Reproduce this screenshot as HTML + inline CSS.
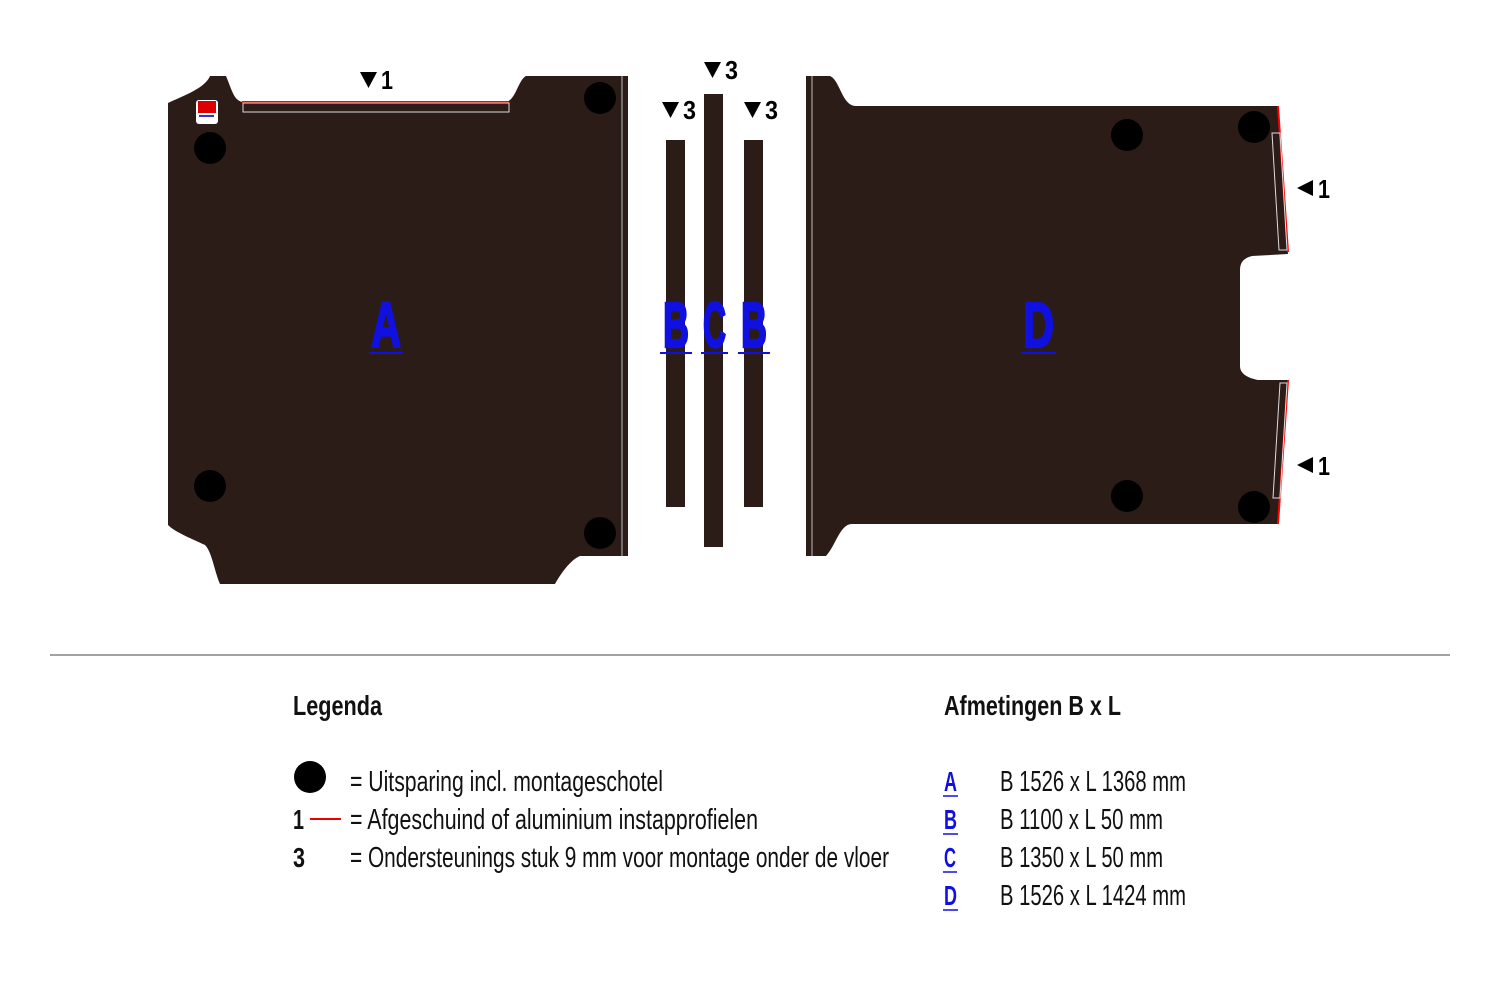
<!DOCTYPE html>
<html><head><meta charset="utf-8"><style>
html,body{margin:0;padding:0;background:#fff;}
svg{display:block;}
text{font-family:"Liberation Sans",sans-serif;}
.big{font-weight:700;font-size:64px;fill:#1010e0;stroke:#1010e0;stroke-width:2.5px;}
</style></head><body>
<svg width="1500" height="1001" viewBox="0 0 1500 1001" xmlns="http://www.w3.org/2000/svg">
<rect width="1500" height="1001" fill="#fff"/>
<!-- Piece A -->
<path d="M168,103 C185,95 205,88 210,76 L226,76 C232,90 234,102 244,102 L506,102 C516,100 518,80 526,76 L628,76 L628,556 L580,556 C570,560 560,575 555,584 L220,584 C214,570 212,552 205,545 C190,538 175,532 168,525 Z" fill="#2c1c17"/>
<line x1="242" y1="102" x2="509" y2="102" stroke="#f00" stroke-width="2"/>
<rect x="243" y="103" width="266" height="9" fill="none" stroke="#ddd" stroke-width="1"/>
<line x1="622" y1="76" x2="622" y2="556" stroke="#bbb" stroke-width="1"/>
<rect x="196" y="100" width="22" height="24" rx="3" fill="#fff"/>
<rect x="198" y="101" width="18" height="12" fill="#d00"/>
<rect x="199" y="115" width="15" height="2" fill="#33c"/>
<circle cx="600" cy="98" r="16" fill="#000"/>
<circle cx="210" cy="148" r="16" fill="#000"/>
<circle cx="210" cy="486" r="16" fill="#000"/>
<circle cx="600" cy="533" r="16" fill="#000"/>
<!-- strips -->
<rect x="666" y="140" width="19" height="367" fill="#2c1c17"/>
<rect x="704" y="94" width="19" height="453" fill="#2c1c17"/>
<rect x="744" y="140" width="19" height="367" fill="#2c1c17"/>
<!-- Piece D -->
<path d="M806,76 L830,76 C840,80 842,106 856,106 L1278,106 L1288,254 L1252,256 C1244,258 1240,262 1240,270 L1240,366 C1240,374 1248,378 1258,380 L1288,380 L1278,524 L852,524 C840,524 836,545 826,556 L806,556 Z" fill="#2c1c17"/>
<line x1="812" y1="76" x2="812" y2="556" stroke="#bbb" stroke-width="1"/>
<line x1="1278" y1="106" x2="1288" y2="252" stroke="#f00" stroke-width="2"/>
<line x1="1288" y1="380" x2="1278" y2="524" stroke="#f00" stroke-width="2"/>
<path d="M1272,133 L1280,133 L1287,250 L1279,250 Z" fill="none" stroke="#ddd" stroke-width="1"/>
<path d="M1280,383 L1287,383 L1280,498 L1273,498 Z" fill="none" stroke="#ddd" stroke-width="1"/>
<circle cx="1127" cy="135" r="16" fill="#000"/>
<circle cx="1254" cy="127" r="16" fill="#000"/>
<circle cx="1127" cy="496" r="16" fill="#000"/>
<circle cx="1254" cy="507" r="16" fill="#000"/>
<!-- big letters -->
<text class="big" x="371" y="347" textLength="30" lengthAdjust="spacingAndGlyphs">A</text>
<text class="big" x="663" y="347" textLength="26" lengthAdjust="spacingAndGlyphs">B</text>
<text class="big" x="703" y="347" textLength="23" lengthAdjust="spacingAndGlyphs">C</text>
<text class="big" x="741" y="347" textLength="26" lengthAdjust="spacingAndGlyphs">B</text>
<text class="big" x="1023" y="347" textLength="31" lengthAdjust="spacingAndGlyphs">D</text>
<g stroke="#1010e0" stroke-width="2">
<line x1="369" y1="353" x2="403" y2="353"/>
<line x1="660" y1="353" x2="692" y2="353"/>
<line x1="701" y1="353" x2="728" y2="353"/>
<line x1="738" y1="353" x2="770" y2="353"/>
<line x1="1021" y1="353" x2="1056" y2="353"/>
</g>
<!-- markers -->
<g fill="#000" font-weight="bold" font-size="26">
<path d="M360,72 L377,72 L368.5,88 Z"/><text x="381" y="89" textLength="12" lengthAdjust="spacingAndGlyphs">1</text>
<path d="M704,62 L721,62 L712.5,78 Z"/><text x="725" y="79" textLength="13" lengthAdjust="spacingAndGlyphs">3</text>
<path d="M662,102 L679,102 L670.5,118 Z"/><text x="683" y="119" textLength="13" lengthAdjust="spacingAndGlyphs">3</text>
<path d="M744,102 L761,102 L752.5,118 Z"/><text x="765" y="119" textLength="13" lengthAdjust="spacingAndGlyphs">3</text>
<path d="M1297,188 L1313,180 L1313,196 Z"/><text x="1318" y="198" textLength="12" lengthAdjust="spacingAndGlyphs">1</text>
<path d="M1297,465 L1313,457 L1313,473 Z"/><text x="1318" y="475" textLength="12" lengthAdjust="spacingAndGlyphs">1</text>
</g>
<!-- divider -->
<line x1="50" y1="655" x2="1450" y2="655" stroke="#444" stroke-width="1"/>
<!-- legend -->
<g fill="#111">
<text x="293" y="715" font-size="28" font-weight="bold" textLength="89" lengthAdjust="spacingAndGlyphs">Legenda</text>
<circle cx="310" cy="777" r="16" fill="#000"/>
<text x="350" y="791" font-size="29" textLength="313" lengthAdjust="spacingAndGlyphs">= Uitsparing incl. montageschotel</text>
<text x="293" y="829" font-size="28" font-weight="bold" textLength="11" lengthAdjust="spacingAndGlyphs">1</text>
<line x1="310" y1="819" x2="341" y2="819" stroke="#e00" stroke-width="2"/>
<text x="350" y="829" font-size="29" textLength="408" lengthAdjust="spacingAndGlyphs">= Afgeschuind of aluminium instapprofielen</text>
<text x="293" y="867" font-size="28" font-weight="bold" textLength="12" lengthAdjust="spacingAndGlyphs">3</text>
<text x="350" y="867" font-size="29" textLength="539" lengthAdjust="spacingAndGlyphs">= Ondersteunings stuk 9 mm voor montage onder de vloer</text>

<text x="944" y="715" font-size="28" font-weight="bold" textLength="177" lengthAdjust="spacingAndGlyphs">Afmetingen B x L</text>
<g fill="#1010e0" font-size="28" font-weight="bold">
<text x="944" y="791" textLength="13" lengthAdjust="spacingAndGlyphs">A</text>
<text x="944" y="829" textLength="13" lengthAdjust="spacingAndGlyphs">B</text>
<text x="944" y="867" textLength="12" lengthAdjust="spacingAndGlyphs">C</text>
<text x="944" y="905" textLength="13" lengthAdjust="spacingAndGlyphs">D</text>
</g>
<g stroke="#1010e0" stroke-width="1.5">
<line x1="943" y1="796" x2="958" y2="796"/>
<line x1="943" y1="834" x2="958" y2="834"/>
<line x1="943" y1="872" x2="957" y2="872"/>
<line x1="943" y1="910" x2="958" y2="910"/>
</g>
<text x="1000" y="791" font-size="29" textLength="186" lengthAdjust="spacingAndGlyphs">B 1526 x L 1368 mm</text>
<text x="1000" y="829" font-size="29" textLength="163" lengthAdjust="spacingAndGlyphs">B 1100 x L 50 mm</text>
<text x="1000" y="867" font-size="29" textLength="163" lengthAdjust="spacingAndGlyphs">B 1350 x L 50 mm</text>
<text x="1000" y="905" font-size="29" textLength="186" lengthAdjust="spacingAndGlyphs">B 1526 x L 1424 mm</text>
</g>
</svg>
</body></html>
